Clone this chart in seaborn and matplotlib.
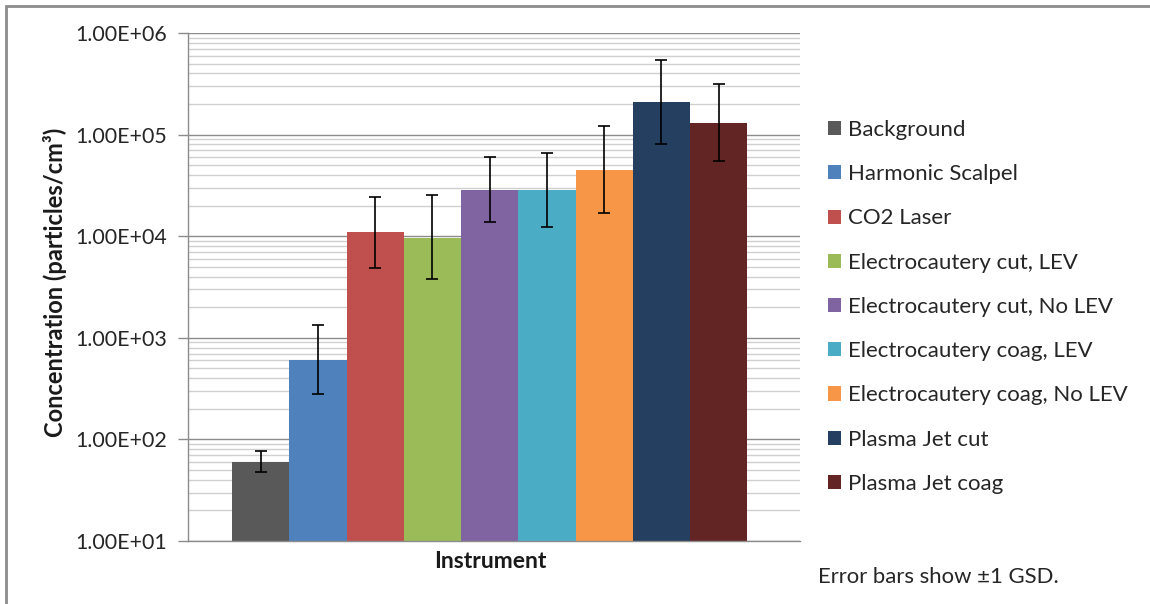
import numpy as np
import pandas as pd
import matplotlib
matplotlib.use("Agg")
import matplotlib.pyplot as plt
import seaborn as sns
from matplotlib.patches import Rectangle
from matplotlib.ticker import LogLocator, FuncFormatter, NullFormatter

instruments = ["Background", "Harmonic Scalpel", "CO2 Laser", "Electrocautery cut, LEV",
               "Electrocautery cut, No LEV", "Electrocautery coag, LEV",
               "Electrocautery coag, No LEV", "Plasma Jet cut", "Plasma Jet coag"]
concentration = [60, 600, 10900, 9700, 28500, 28500, 45000, 211000, 131000]
err_upper = [77, 1330, 24300, 25600, 60200, 66300, 122000, 546000, 315000]
err_lower = [47.5, 282, 4870, 3770, 13900, 12400, 17000, 80200, 55400]
colors = ["#595959", "#4f81bd", "#c0504d", "#9bbb59", "#8064a2", "#4bacc6",
          "#f79646", "#243f60", "#632523"]

sns.set_style("white")
plt.rcParams['font.family'] = ['Lato', 'DejaVu Sans']

df = pd.DataFrame({"Instrument": ["Instrument"] * len(instruments),
                   "Series": instruments, "Concentration": concentration})

fig = plt.figure(figsize=(11.5, 6.04), dpi=100)
ax = fig.add_axes([188 / 1150, 1 - 541 / 604, 612 / 1150, (541 - 33) / 604])

sns.barplot(data=df, x="Instrument", y="Concentration", hue="Series",
            hue_order=instruments, palette=colors, width=0.842, dodge=True,
            errorbar=None, linewidth=0, saturation=1, ax=ax, legend=True)
ax.set_yscale("log")
ax.set_ylim(10, 1e6)
ax.set_xlim(-0.493, 0.507)

# error bars at bar centres
bars = [p for p in ax.patches if p.get_height() > 0][:len(instruments)]
xs = [p.get_x() + p.get_width() / 2 for p in bars]
vals = np.array(concentration, dtype=float)
yerr = np.vstack([vals - np.array(err_lower), np.array(err_upper) - vals])
ax.errorbar(xs, vals, yerr=yerr, fmt="none", ecolor="black", elinewidth=1.2,
            capsize=4.3, capthick=1.2, zorder=5)

ax.yaxis.set_major_locator(LogLocator(base=10, numticks=10))
ax.yaxis.set_minor_locator(LogLocator(base=10, subs=np.arange(2, 10), numticks=20))
ax.yaxis.set_major_formatter(FuncFormatter(lambda v, p: "%.2E" % v))
ax.yaxis.set_minor_formatter(NullFormatter())
ax.grid(True, which="major", axis="y", color="#8c8c8c", linewidth=1.0, zorder=0)
ax.grid(True, which="minor", axis="y", color="#d0d0d0", linewidth=1.0, zorder=0)
ax.set_axisbelow(True)
ax.tick_params(axis="y", which="major", direction="out", length=7, width=1,
               color="#8c8c8c", labelsize=15.4, labelcolor="#262626", pad=8, left=True)
ax.tick_params(axis="y", which="minor", length=0)
ax.tick_params(axis="x", length=0, labelbottom=False)

for s in ["top", "right"]:
    ax.spines[s].set_visible(False)
for s in ["left", "bottom"]:
    ax.spines[s].set_color("#8c8c8c")
    ax.spines[s].set_linewidth(1.0)

ax.set_xlabel("Instrument", fontsize=16.5, fontweight="bold", color="#1a1a1a")
ax.xaxis.label.set_va("center")
ax.xaxis.set_label_coords(0.494, (541 - 562) / 508)
ax.set_ylabel("Concentration (particles/cm³)", fontsize=17, fontweight="bold",
              color="#1a1a1a")
ax.yaxis.label.set_va("center")
ax.yaxis.set_label_coords((55 - 188) / 612, 0.51)

handles, labels = ax.get_legend_handles_labels()
ax.legend(handles, labels, loc="upper left", bbox_to_anchor=(828 / 1150, 1 - 120 / 604),
          bbox_transform=fig.transFigure, frameon=False, fontsize=16,
          handlelength=0.6, handleheight=0.6, handletextpad=0.32,
          labelspacing=1.09, labelcolor="#262626", title=None, borderpad=0, borderaxespad=0)

fig.text(818 / 1150, 1 - 577 / 604, "Error bars show ±1 GSD.", fontsize=15.9,
         color="#262626", va="center", ha="left")

fig.patches.append(Rectangle((5.5 / 1150, -0.05), 1.2, 1 - 5.5 / 604 + 0.05,
                             transform=fig.transFigure, fill=False,
                             edgecolor="#8c8c8c", linewidth=2, zorder=10))

fig.savefig("out.png", dpi=100, facecolor="white")
